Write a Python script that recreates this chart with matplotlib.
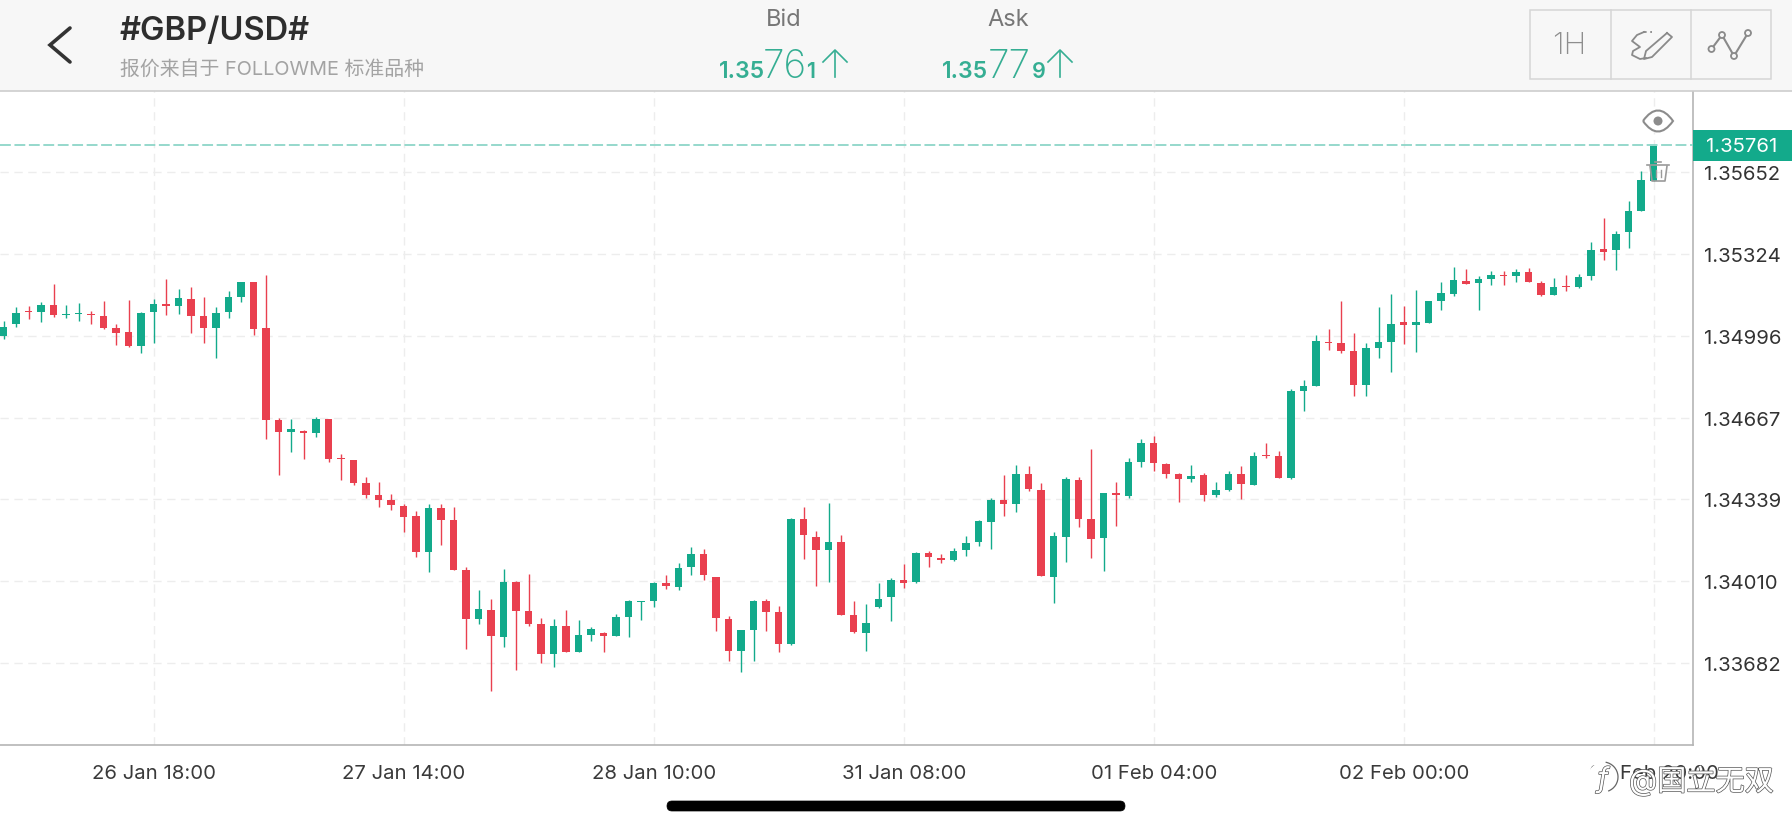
# GBP/USD 1H candlestick screenshot
import matplotlib
matplotlib.use('Agg')
import matplotlib.pyplot as plt
import matplotlib.patheffects as pe
from matplotlib.path import Path
from matplotlib.patches import Rectangle, Circle, FancyBboxPatch, Arc, PathPatch

plt.rcParams['font.family'] = ['Inter', 'Noto Sans CJK SC', 'DejaVu Sans']

opens = [
    1.34994, 1.35043, 1.35094, 1.35092, 1.35118, 1.35080, 1.35084, 1.35085, 1.35074, 1.35027,
    1.35010, 1.34954, 1.35090, 1.35124, 1.35116, 1.35145, 1.35074, 1.35027, 1.35092, 1.35153,
    1.35213, 1.35026, 1.34659, 1.34608, 1.34614, 1.34606, 1.34661, 1.34504, 1.34497, 1.34405,
    1.34357, 1.34335, 1.34313, 1.34271, 1.34128, 1.34303, 1.34258, 1.34057, 1.33859, 1.33896,
    1.33788, 1.34009, 1.33889, 1.33840, 1.33717, 1.33830, 1.33727, 1.33794, 1.33804, 1.33792,
    1.33868, 1.33926, 1.33931, 1.34005, 1.33989, 1.34067, 1.34118, 1.34026, 1.33859, 1.33729,
    1.33813, 1.33931, 1.33887, 1.33760, 1.34260, 1.34187, 1.34137, 1.34167, 1.33876, 1.33804,
    1.33907, 1.33946, 1.34017, 1.34006, 1.34124, 1.34105, 1.34096, 1.34134, 1.34167, 1.34247,
    1.34335, 1.34322, 1.34441, 1.34377, 1.34027, 1.34188, 1.34417, 1.34260, 1.34185, 1.34365,
    1.34354, 1.34489, 1.34566, 1.34482, 1.34440, 1.34421, 1.34436, 1.34357, 1.34377, 1.34442,
    1.34398, 1.34517, 1.34513, 1.34424, 1.34774, 1.34796, 1.34973, 1.34967, 1.34934, 1.34798,
    1.34948, 1.34973, 1.35051, 1.35039, 1.35047, 1.35136, 1.35164, 1.35216, 1.35209, 1.35224,
    1.35239, 1.35238, 1.35251, 1.35209, 1.35160, 1.35195, 1.35192, 1.35236, 1.35346, 1.35339,
    1.35412, 1.35498, 1.35619,
]
closes = [
    1.35030, 1.35086, 1.35092, 1.35118, 1.35081, 1.35082, 1.35089, 1.35078, 1.35027, 1.35009,
    1.34954, 1.35088, 1.35122, 1.35114, 1.35147, 1.35074, 1.35027, 1.35089, 1.35152, 1.35212,
    1.35023, 1.34659, 1.34610, 1.34620, 1.34606, 1.34661, 1.34501, 1.34500, 1.34405, 1.34357,
    1.34337, 1.34315, 1.34267, 1.34129, 1.34304, 1.34258, 1.34057, 1.33859, 1.33899, 1.33792,
    1.34007, 1.33889, 1.33840, 1.33717, 1.33830, 1.33726, 1.33796, 1.33819, 1.33789, 1.33865,
    1.33930, 1.33931, 1.34003, 1.33990, 1.34064, 1.34118, 1.34035, 1.33863, 1.33729, 1.33813,
    1.33932, 1.33888, 1.33760, 1.34259, 1.34197, 1.34137, 1.34167, 1.33876, 1.33805, 1.33843,
    1.33939, 1.34017, 1.34003, 1.34125, 1.34106, 1.34096, 1.34133, 1.34165, 1.34251, 1.34337,
    1.34320, 1.34442, 1.34381, 1.34031, 1.34191, 1.34420, 1.34260, 1.34181, 1.34363, 1.34355,
    1.34489, 1.34567, 1.34484, 1.34442, 1.34421, 1.34434, 1.34357, 1.34375, 1.34441, 1.34400,
    1.34515, 1.34515, 1.34424, 1.34773, 1.34793, 1.34974, 1.34969, 1.34935, 1.34798, 1.34946,
    1.34971, 1.35043, 1.35039, 1.35051, 1.35134, 1.35169, 1.35219, 1.35205, 1.35224, 1.35242,
    1.35236, 1.35251, 1.35212, 1.35159, 1.35192, 1.35191, 1.35232, 1.35341, 1.35334, 1.35404,
    1.35496, 1.35620, 1.35760,
]
highs = [
    1.35054, 1.35110, 1.35114, 1.35130, 1.35204, 1.35120, 1.35126, 1.35097, 1.35134, 1.35043,
    1.35138, 1.35090, 1.35144, 1.35224, 1.35184, 1.35192, 1.35152, 1.35110, 1.35177, 1.35213,
    1.35213, 1.35240, 1.34665, 1.34662, 1.34618, 1.34669, 1.34661, 1.34521, 1.34497, 1.34428,
    1.34408, 1.34359, 1.34321, 1.34291, 1.34320, 1.34320, 1.34308, 1.34066, 1.33975, 1.33939,
    1.34060, 1.34013, 1.34039, 1.33863, 1.33859, 1.33895, 1.33855, 1.33825, 1.33805, 1.33880,
    1.33936, 1.33932, 1.34006, 1.34035, 1.34082, 1.34146, 1.34140, 1.34026, 1.33872, 1.33815,
    1.33934, 1.33939, 1.33910, 1.34263, 1.34310, 1.34211, 1.34323, 1.34196, 1.33932, 1.33919,
    1.34003, 1.34022, 1.34078, 1.34129, 1.34133, 1.34118, 1.34145, 1.34193, 1.34255, 1.34346,
    1.34437, 1.34477, 1.34475, 1.34404, 1.34207, 1.34430, 1.34428, 1.34541, 1.34365, 1.34410,
    1.34504, 1.34582, 1.34592, 1.34484, 1.34444, 1.34479, 1.34444, 1.34410, 1.34452, 1.34472,
    1.34528, 1.34566, 1.34535, 1.34782, 1.34819, 1.35001, 1.35023, 1.35134, 1.35006, 1.34966,
    1.35113, 1.35164, 1.35114, 1.35181, 1.35136, 1.35213, 1.35272, 1.35264, 1.35238, 1.35256,
    1.35255, 1.35264, 1.35267, 1.35217, 1.35230, 1.35240, 1.35246, 1.35374, 1.35469, 1.35418,
    1.35539, 1.35656, 1.35760,
]
lows = [
    1.34983, 1.35033, 1.35064, 1.35053, 1.35072, 1.35066, 1.35054, 1.35043, 1.35025, 1.34959,
    1.34952, 1.34927, 1.34967, 1.35081, 1.35085, 1.35007, 1.34967, 1.34907, 1.35069, 1.35130,
    1.35000, 1.34582, 1.34437, 1.34531, 1.34501, 1.34590, 1.34491, 1.34417, 1.34398, 1.34346,
    1.34307, 1.34296, 1.34209, 1.34109, 1.34046, 1.34157, 1.34055, 1.33738, 1.33839, 1.33571,
    1.33745, 1.33654, 1.33829, 1.33681, 1.33665, 1.33725, 1.33726, 1.33772, 1.33727, 1.33790,
    1.33785, 1.33856, 1.33908, 1.33979, 1.33976, 1.34035, 1.34017, 1.33810, 1.33689, 1.33644,
    1.33690, 1.33810, 1.33725, 1.33756, 1.34100, 1.33990, 1.34006, 1.33876, 1.33804, 1.33729,
    1.33902, 1.33849, 1.33982, 1.34005, 1.34067, 1.34085, 1.34093, 1.34113, 1.34151, 1.34140,
    1.34274, 1.34287, 1.34374, 1.34031, 1.33923, 1.34089, 1.34230, 1.34102, 1.34050, 1.34231,
    1.34345, 1.34471, 1.34452, 1.34424, 1.34327, 1.34408, 1.34334, 1.34350, 1.34371, 1.34341,
    1.34397, 1.34504, 1.34424, 1.34422, 1.34695, 1.34794, 1.34940, 1.34927, 1.34753, 1.34756,
    1.34907, 1.34852, 1.34963, 1.34930, 1.35046, 1.35101, 1.35156, 1.35204, 1.35098, 1.35199,
    1.35199, 1.35212, 1.35211, 1.35157, 1.35159, 1.35177, 1.35187, 1.35221, 1.35302, 1.35262,
    1.35349, 1.35497, 1.35619,
]

y_ticks = [1.33682, 1.34010, 1.34339, 1.34667, 1.34996, 1.35324, 1.35652]
x_ticks = [12, 32, 52, 72, 92, 112, 132]
x_labels = ['26 Jan 18:00', '27 Jan 14:00', '28 Jan 10:00', '31 Jan 08:00',
            '01 Feb 04:00', '02 Feb 00:00', '02 Feb 20:00']
last_price = 1.35761

GREEN = '#13AA8B'
RED = '#E9404F'
TEXT_GREEN = '#35AE93'
GRID = '#EDEDED'
W, H = 1792, 828

fig = plt.figure(figsize=(W / 100, H / 100), dpi=100, facecolor='white')

# chart area, position in pixels: x 0-1693, y 92-746
ax = fig.add_axes([0, (H - 746) / H, 1693 / W, (746 - 92) / H], zorder=1)
ax.set_xlim(-0.296, 135.14)
ax.set_ylim(1.333527, 1.359792)

xs = list(range(len(opens)))
colors = [GREEN if c >= o else RED for o, c in zip(opens, closes)]
ax.vlines(xs, lows, highs, colors=colors, linewidth=1.0, zorder=3)
ax.bar(xs, [abs(c - o) for o, c in zip(opens, closes)],
       bottom=[min(o, c) for o, c in zip(opens, closes)],
       width=0.6, color=colors, linewidth=0, zorder=4)

ax.axhline(last_price, color='#8DD6C8', linewidth=1.3, linestyle=(0, (6, 2)), zorder=5)

ax.set_xticks(x_ticks)
ax.set_xticklabels(x_labels, fontsize=14.6, color='#3A3A3A')
ax.yaxis.tick_right()
ax.set_yticks(y_ticks)
ax.set_yticklabels([f'{v:.5f}' for v in y_ticks], fontsize=14.6, color='#333333')
ax.tick_params(axis='both', length=0)
ax.tick_params(axis='x', pad=14)
ax.tick_params(axis='y', pad=8)
ax.grid(True, color=GRID, linewidth=1.0, linestyle=(0, (6, 4)), zorder=0)
ax.set_axisbelow(True)
for side in ['top', 'left']:
    ax.spines[side].set_visible(False)
for side in ['right', 'bottom']:
    ax.spines[side].set_color('#B5B5B5')
    ax.spines[side].set_linewidth(1.2)

# overlay in screen pixels for the app chrome
ui = fig.add_axes([0, 0, 1, 1], zorder=2)
ui.set_xlim(0, W)
ui.set_ylim(H, 0)
ui.axis('off')
ui.patch.set_alpha(0)

ui.add_patch(Rectangle((0, 0), W, 91.5, facecolor='#F7F7F7', edgecolor='none'))
ui.plot([0, W], [92, 92], color='#CDCDCD', linewidth=1.2)

# back chevron
ui.plot([70, 50, 70], [29, 46, 63], color='#333333', linewidth=2.6,
        solid_capstyle='round', solid_joinstyle='miter')

ui.text(120, 32, '#GBP/USD#', fontsize=23.5, fontweight='semibold', color='#2E2E2E',
        ha='left', va='center')
ui.text(120, 69, '报价来自于 FOLLOWME 标准品种', fontsize=14.3, color='#A3A3A3',
        ha='left', va='center')


def quote(x_small, x_big, x_last, x_arrow, head, big, last):
    ui.text(x_small, 78, head, fontsize=16.5, fontweight='semibold', color=TEXT_GREEN,
            ha='left', va='baseline')
    ui.text(x_big, 78, big, fontsize=28, fontweight='light', color=TEXT_GREEN,
            ha='left', va='baseline')
    ui.text(x_last, 78, last, fontsize=15.5, fontweight='semibold', color=TEXT_GREEN,
            ha='left', va='baseline')
    ui.plot([x_arrow, x_arrow], [52, 78], color=TEXT_GREEN, linewidth=1.2)
    ui.plot([x_arrow - 12, x_arrow, x_arrow + 12], [63, 51, 63], color=TEXT_GREEN, linewidth=1.2)


ui.text(784, 20, 'Bid', fontsize=17, color='#777777', ha='center', va='center')
ui.text(1008, 20, 'Ask', fontsize=17, color='#777777', ha='center', va='center')
quote(719, 763, 806, 835, '1.35', '76', '1')
quote(942, 988, 1032, 1060, '1.35', '77', '9')

# toolbar
ui.add_patch(Rectangle((1530, 11), 241, 69, facecolor='none', edgecolor='#D6D6D6', linewidth=1.1))
ui.plot([1611, 1611], [11, 80], color='#D6D6D6', linewidth=1.1)
ui.plot([1691, 1691], [11, 80], color='#D6D6D6', linewidth=1.1)
ui.text(1569, 46, '1H', fontsize=22, fontweight='light', color='#8E8E8E', ha='center', va='center')

# pen icon
ICON = '#8A8A8A'
ui.plot([1667, 1672, 1652, 1644, 1646, 1667], [34, 38, 58, 60, 52, 34], color=ICON, linewidth=1.3)
ui.plot([1644, 1637, 1632, 1640, 1633, 1632, 1640, 1646], [33, 36, 42, 48, 52, 56, 60, 59],
        color=ICON, linewidth=1.3)
ui.plot([1643, 1652], [33, 33], color=ICON, linewidth=1.3, linestyle=(0, (2, 2)))

# line tool icon
node_x = [1711.5, 1722, 1734, 1748]
node_y = [50, 36, 57, 34]
ui.plot(node_x, node_y, color=ICON, linewidth=1.5)
for nx, ny in zip(node_x, node_y):
    ui.add_patch(Circle((nx, ny), 3, facecolor='#F7F7F7', edgecolor=ICON, linewidth=1.3, zorder=3))

# eye and bin icons on the price line
eye = Path([(1643, 122), (1653, 108), (1663, 108), (1673, 122), (1663, 136), (1653, 136), (1643, 122)],
           [Path.MOVETO, Path.CURVE4, Path.CURVE4, Path.CURVE4, Path.CURVE4, Path.CURVE4, Path.CURVE4])
ui.add_patch(PathPatch(eye, facecolor='white', edgecolor='#8C8C8C', linewidth=1.5))
ui.add_patch(Circle((1658, 122), 4.5, facecolor='#8C8C8C', edgecolor='none'))
BIN = '#9A9A9A'
ui.plot([1650, 1652, 1665, 1667], [167, 182, 182, 167], color=BIN, linewidth=1.2)
ui.plot([1647, 1669], [166, 166], color=BIN, linewidth=1.2)
ui.plot([1655, 1661], [163, 163], color=BIN, linewidth=1.2)
ui.plot([1656, 1656], [171, 178], color=BIN, linewidth=1.0)
ui.plot([1661, 1661], [171, 178], color=BIN, linewidth=1.0)

# last price tag
ui.add_patch(Rectangle((1693, 131), 99, 31, facecolor=GREEN, edgecolor='none'))
ui.text(1742, 146.5, f'{last_price:.5f}', fontsize=14.6, color='white', ha='center', va='center')

# watermark over the last date label
ui.add_patch(Circle((1604, 780), 17, facecolor='white', edgecolor='none'))
outline = [pe.Stroke(linewidth=1.0, foreground='#555555'), pe.Normal()]
ui.add_patch(Arc((1603, 778), 30, 30, theta1=280, theta2=70, color='#666666', linewidth=0.9))
ui.text(1603, 781, 'f', fontsize=20, style='italic', color='white', ha='center', va='center',
        path_effects=outline)
ui.text(1629, 782, '@国立无双', fontsize=21, color='white', ha='left', va='center',
        path_effects=outline)

# home indicator
ui.add_patch(FancyBboxPatch((667, 802), 458, 10, boxstyle='round,pad=0,rounding_size=5',
                            mutation_aspect=1, facecolor='black', edgecolor='black', linewidth=0.5))

plt.savefig('out.png', dpi=100, facecolor='white')
